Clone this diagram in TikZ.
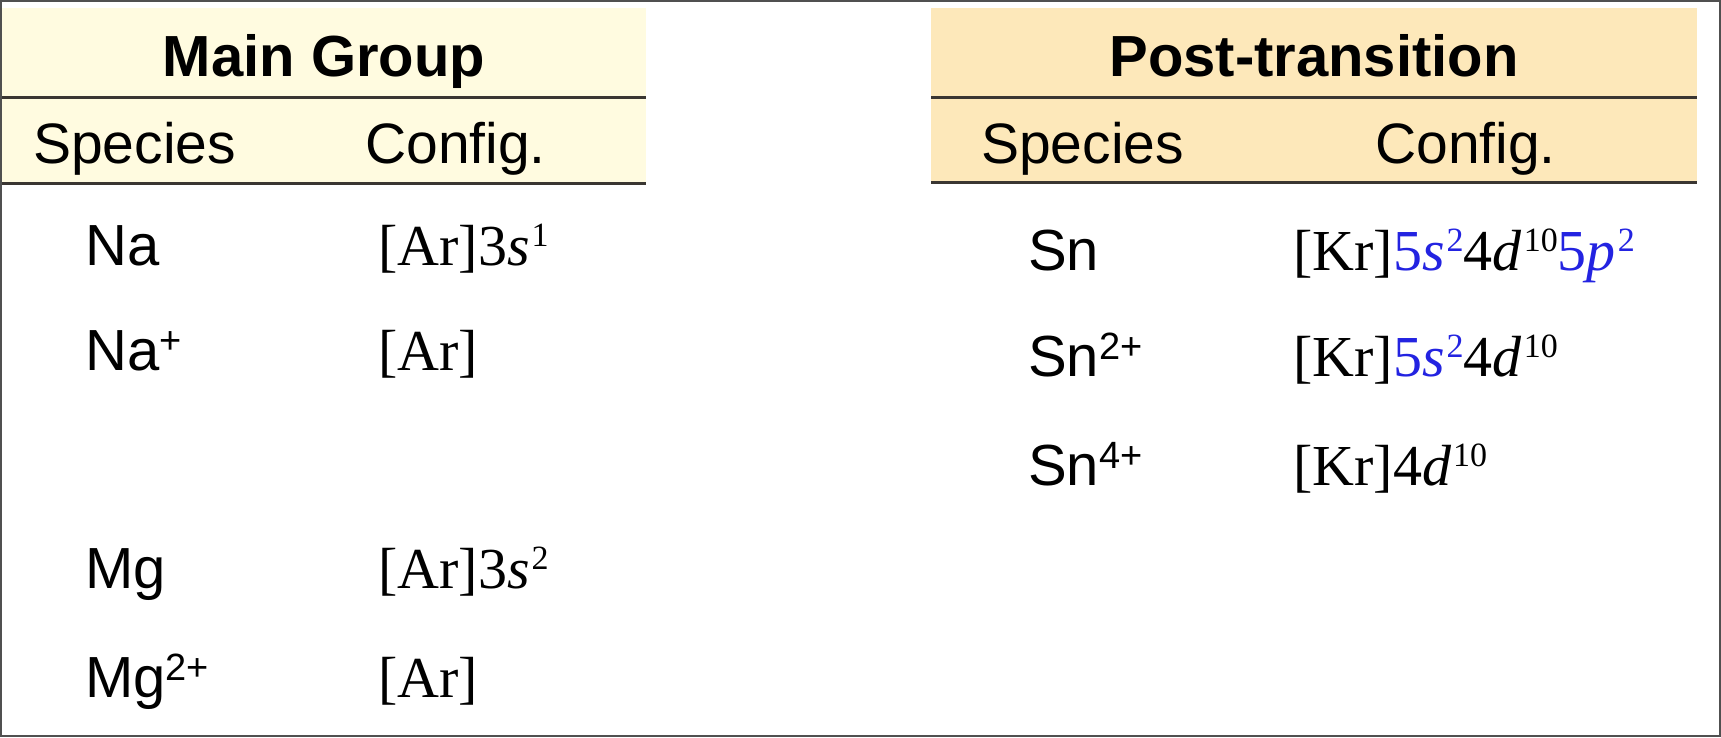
\documentclass[tikz,border=0pt]{standalone}
\usepackage{fontspec}
\setmainfont{Liberation Sans}
\newfontfamily\cfgfont{Liberation Serif}
\definecolor{orbblue}{RGB}{35,35,225}
\definecolor{mainfill}{RGB}{255,251,224}
\definecolor{postfill}{RGB}{253,232,186}
\definecolor{rulegray}{RGB}{58,54,50}
\definecolor{framegray}{RGB}{80,80,80}
% superscripts for species (sans) and configurations (serif)
\newcommand\ssup[1]{\raisebox{17pt}{\fontsize{38}{38}\selectfont #1}}
\newcommand\csup[1]{\kern2pt\raisebox{19pt}{\fontsize{34}{34}\selectfont #1}}
\tikzset{
  titletext/.style={anchor=base,inner sep=0pt,font=\fontsize{58}{60}\selectfont\bfseries},
  headtext/.style={anchor=base west,inner sep=0pt,font=\fontsize{57}{60}\selectfont},
  spectext/.style={anchor=base west,inner sep=0pt,font=\fontsize{58}{60}\selectfont},
  cfgtext/.style={anchor=base west,inner sep=0pt,font=\fontsize{58}{60}\selectfont\cfgfont},
  tablerule/.style={draw=rulegray,line width=3pt}
}
\begin{document}
\begin{tikzpicture}[x=1pt,y=-1pt]
  \useasboundingbox (0,0) rectangle (1721,737);

  % panels
  \fill[mainfill] (2,8) rectangle (646,183);
  \fill[postfill] (931,8) rectangle (1697,182);
  \draw[tablerule] (2,97) -- (646,97);
  \draw[tablerule] (2,183) -- (646,183);
  \draw[tablerule] (931,97) -- (1697,97);
  \draw[tablerule] (931,182) -- (1697,182);

  % titles and headers
  \node[titletext] (maintitle) at (324,76) {Main Group};
  \node[titletext] (posttitle) at (1314,76) {Post-transition};
  \node[headtext] (mainspec) at (33,163) {Species};
  \node[headtext] (maincfg)  at (365,163) {Config.};
  \node[headtext] (postspec) at (981,163) {Species};
  \node[headtext] (postcfg)  at (1375,163) {Config.};

  % species
  \begin{scope}[every node/.style={spectext}]
    \node (na)   at (85,265) {Na};
    \node (nap)  at (85,370) {Na\ssup{+}};
    \node (mg)   at (85,588) {Mg};
    \node (mgp)  at (85,697) {Mg\ssup{2+}};
    \node (sn)   at (1028,270) {Sn};
    \node (snii) at (1028,376) {Sn\ssup{2+}};
    \node (sniv) at (1028,485) {Sn\ssup{4+}};
  \end{scope}

  % configurations
  \begin{scope}[every node/.style={cfgtext}]
    \node (nacfg)   at (378,265) {[Ar]3\textit{s}\csup{1}};
    \node (napcfg)  at (378,370) {[Ar]};
    \node (mgcfg)   at (378,588) {[Ar]3\textit{s}\csup{2}};
    \node (mgpcfg)  at (378,697) {[Ar]};
    \node (sncfg)   at (1293,270) {[Kr]\textcolor{orbblue}{5\textit{s}\csup{2}}4\textit{d}\csup{10}\textcolor{orbblue}{5\textit{p}\csup{2}}};
    \node (sniicfg) at (1293,376) {[Kr]\textcolor{orbblue}{5\textit{s}\csup{2}}4\textit{d}\csup{10}};
    \node (snivcfg) at (1293,485) {[Kr]4\textit{d}\csup{10}};
  \end{scope}

  % outer frame
  \draw[framegray,line width=2pt] (1,1) rectangle (1720,736);
\end{tikzpicture}
\end{document}
